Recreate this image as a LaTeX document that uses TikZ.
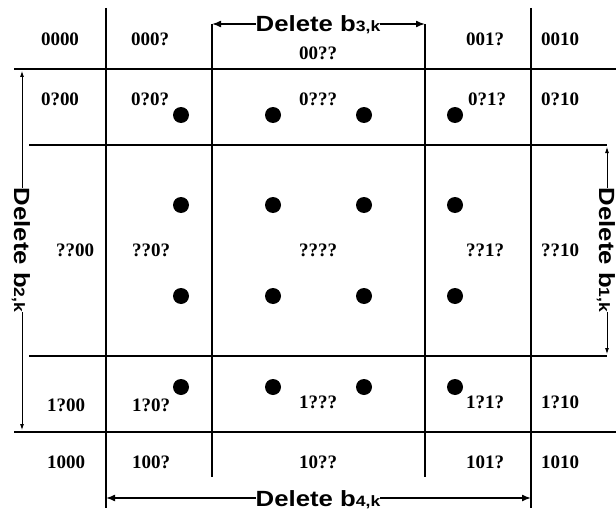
\documentclass[tikz,border=0pt]{standalone}
\usepackage{fontspec}
\usepackage{graphicx}
\newfontfamily\lblfont{Liberation Serif}
\newfontfamily\delfont{Liberation Sans}
\usetikzlibrary{arrows.meta}
\newcommand\mydel[1]{\scalebox{1.17}[1]{\delfont\bfseries\fontsize{22}{22}\selectfont Delete b{\fontsize{15}{15}\selectfont #1,k}}}
\begin{document}
\begin{tikzpicture}[x=1pt,y=-1pt,
  grid/.style={line width=2pt},
  lbl/.style={font=\lblfont\bfseries\fontsize{19}{19}\selectfont, inner sep=0pt},
  dot/.style={circle, fill=black, minimum size=16pt, inner sep=0pt},
  del/.style={inner sep=0pt, text height=16pt, text depth=0pt},
  bigarrow/.style={line width=1.5pt, -{Latex[length=9pt,width=7pt]}},
  thinarrow/.style={line width=0.8pt, -{Latex[length=6pt,width=4pt]}}
]
\useasboundingbox (0,0) rectangle (616,511);
% grid
\draw[grid] (106,8) -- (106,508);
\draw[grid] (531,8) -- (531,508);
\draw[grid] (212,24) -- (212,477);
\draw[grid] (425,24) -- (425,477);
\draw[grid] (14,69) -- (616,69);
\draw[grid] (14,432) -- (616,432);
\draw[grid] (29,145) -- (607,145);
\draw[grid] (29,356) -- (607,356);
% labels row 1
\node[lbl] (l0000) at (60,39) {0000};
\node[lbl] (l000q) at (150,39) {000?};
\node[lbl] (l00qq) at (318,53) {00??};
\node[lbl] (l001q) at (485,39) {001?};
\node[lbl] (l0010) at (560,39) {0010};
% row 2
\node[lbl] (l0q00) at (60,99) {0?00};
\node[lbl] (l0q0q) at (150,99) {0?0?};
\node[lbl] (l0qqq) at (318,99) {0???};
\node[lbl] (l0q1q) at (487,99) {0?1?};
\node[lbl] (l0q10) at (560,99) {0?10};
% row 3
\node[lbl] (lqq00) at (75,250) {??00};
\node[lbl] (lqq0q) at (151,250) {??0?};
\node[lbl] (lqqqq) at (318,250) {????};
\node[lbl] (lqq1q) at (485,250) {??1?};
\node[lbl] (lqq10) at (560,250) {??10};
% row 4
\node[lbl] (l1q00) at (66,405) {1?00};
\node[lbl] (l1q0q) at (151,405) {1?0?};
\node[lbl] (l1qqq) at (318,402) {1???};
\node[lbl] (l1q1q) at (485,402) {1?1?};
\node[lbl] (l1q10) at (560,402) {1?10};
% row 5
\node[lbl] (l1000) at (66,462) {1000};
\node[lbl] (l100q) at (151,462) {100?};
\node[lbl] (l10qq) at (318,462) {10??};
\node[lbl] (l101q) at (485,462) {101?};
\node[lbl] (l1010) at (560,462) {1010};
% dots
\foreach \i/\x in {1/181,2/273,3/364,4/455}
  \foreach \j/\y in {1/115,2/205,3/296,4/387}
    \node[dot] (p\i\j) at (\x,\y) {};
% delete labels
\node[del] (d3) at (318,24) {\mydel{3}};
\node[del] (d4) at (318,498) {\mydel{4}};
\node[del, rotate=-90] (d2) at (22,250) {\mydel{2}};
\node[del, rotate=-90] (d1) at (607,250) {\mydel{1}};
\coordinate (t3l) at (212,24);
\coordinate (t3r) at (425,24);
\coordinate (t4l) at (106,498);
\coordinate (t4r) at (531,498);
\coordinate (t2u) at (22,71);
\coordinate (t2d) at (22,430);
\coordinate (t1u) at (607,147);
\coordinate (t1d) at (607,354);
\draw[bigarrow] (d3.west) -- (t3l);
\draw[bigarrow] (d3.east) -- (t3r);
\draw[bigarrow] (d4.west) -- (t4l);
\draw[bigarrow] (d4.east) -- (t4r);
\draw[thinarrow] (d2.west) -- (t2u);
\draw[thinarrow] (d2.east) -- (t2d);
\draw[thinarrow] (d1.west) -- (t1u);
\draw[thinarrow] (d1.east) -- (t1d);
\end{tikzpicture}
\end{document}
